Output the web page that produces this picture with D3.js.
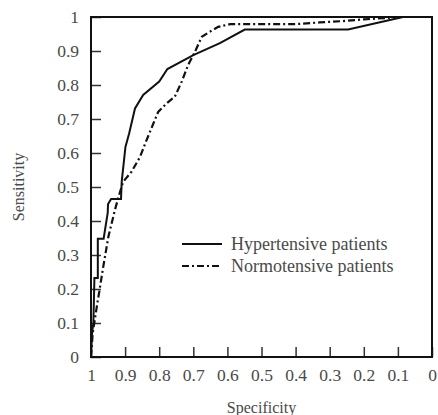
<!DOCTYPE html>
<html>
<head>
<meta charset="utf-8">
<script src="https://cdn.jsdelivr.net/npm/d3@7"></script>
<style>
  body { margin: 0; background: #fff; }
  text { font-family: "Liberation Serif", "DejaVu Serif", serif; fill: #444; }
</style>
</head>
<body>
<svg id="chart" width="438" height="415"></svg>
<script>
// Data: [specificity, sensitivity]
const hypertensive = [
  [1, 0], [0.997, 0.07], [0.993, 0.1], [0.99, 0.232], [0.98, 0.232],
  [0.98, 0.348], [0.963, 0.348], [0.951, 0.424], [0.95, 0.45], [0.941, 0.465],
  [0.912, 0.465], [0.91, 0.515], [0.899, 0.618], [0.888, 0.658], [0.871, 0.731],
  [0.847, 0.771], [0.8, 0.81], [0.776, 0.847], [0.7, 0.888], [0.622, 0.923],
  [0.549, 0.963], [0.246, 0.963], [0.085, 1], [0, 1]
];
const normotensive = [
  [1, 0], [0.995, 0.07], [0.983, 0.148], [0.974, 0.203], [0.964, 0.266],
  [0.949, 0.354], [0.93, 0.432], [0.918, 0.475], [0.906, 0.515], [0.881, 0.545],
  [0.856, 0.589], [0.837, 0.638], [0.815, 0.692], [0.803, 0.721], [0.778, 0.746],
  [0.754, 0.766], [0.734, 0.81], [0.715, 0.859], [0.695, 0.898], [0.675, 0.942],
  [0.651, 0.957], [0.627, 0.971], [0.592, 0.979], [0.402, 0.979], [0.33, 0.984],
  [0.26, 0.988], [0.2, 0.993], [0.09, 1], [0, 1]
];
const xTicks = [1, 0.9, 0.8, 0.7, 0.6, 0.5, 0.4, 0.3, 0.2, 0.1, 0];
const yTicks = [0, 0.1, 0.2, 0.3, 0.4, 0.5, 0.6, 0.7, 0.8, 0.9, 1];
const seriesNames = ['Hypertensive patients', 'Normotensive patients'];

const svg = d3.select('#chart');
const margin = {left: 91, top: 17, right: 6, bottom: 58};
const width = 438 - margin.left - margin.right;
const height = 415 - margin.top - margin.bottom;

const x = d3.scaleLinear().domain([1, 0]).range([0, width]);
const y = d3.scaleLinear().domain([0, 1]).range([height, 0]);

const g = svg.append('g')
  .attr('transform', `translate(${margin.left},${margin.top})`);

// Axes with inward ticks
const fmt = d => d === 0 || d === 1 ? String(d) : d3.format('.1f')(d);

const xAxis = g.append('g')
  .attr('transform', `translate(0,${height})`)
  .call(d3.axisBottom(x).tickValues(xTicks).tickFormat(fmt)
    .tickSizeInner(-10).tickSizeOuter(0).tickPadding(12));

const yAxis = g.append('g')
  .call(d3.axisLeft(y).tickValues(yTicks).tickFormat(fmt)
    .tickSizeInner(-10).tickSizeOuter(0).tickPadding(12));

[xAxis, yAxis].forEach(ax => {
  ax.select('.domain').remove();
  ax.selectAll('line').style('stroke', '#333').style('stroke-width', 1.5);
  ax.selectAll('text')
    .style('font-family', '"Liberation Serif", serif')
    .style('font-size', '17.5px')
    .style('fill', '#4a4a4a');
});

// Frame
g.append('rect')
  .attr('width', width)
  .attr('height', height)
  .style('fill', 'none')
  .style('stroke', '#111')
  .style('stroke-width', 2);

// Curves
const line = d3.line()
  .x(d => x(d[0]))
  .y(d => y(d[1]));

g.append('path')
  .datum(hypertensive)
  .attr('d', line)
  .style('fill', 'none')
  .style('stroke', '#111')
  .style('stroke-width', 2);

g.append('path')
  .datum(normotensive)
  .attr('d', line)
  .style('fill', 'none')
  .style('stroke', '#111')
  .style('stroke-width', 2.2)
  .style('stroke-dasharray', '7,3,2,3');

// Legend
const legend = g.append('g').attr('transform', `translate(${182 - margin.left},${244 - margin.top})`);
seriesNames.forEach((name, i) => {
  legend.append('line')
    .attr('x1', 0).attr('x2', 40)
    .attr('y1', i * 22).attr('y2', i * 22)
    .style('stroke', '#111')
    .style('stroke-width', 2)
    .style('stroke-dasharray', i === 0 ? null : '7,3,2,3');
  legend.append('text')
    .attr('x', 49)
    .attr('y', i * 22)
    .attr('dy', '0.35em')
    .style('font-size', '18px')
    .style('fill', '#4a4a4a')
    .text(name);
});

// Axis titles
svg.append('text')
  .attr('x', margin.left + width / 2)
  .attr('y', 413)
  .attr('text-anchor', 'middle')
  .style('font-size', '16px')
  .style('fill', '#4a4a4a')
  .text('Specificity');

svg.append('text')
  .attr('transform', `translate(24,${margin.top + height / 2}) rotate(-90)`)
  .attr('text-anchor', 'middle')
  .style('font-size', '16px')
  .style('fill', '#4a4a4a')
  .text('Sensitivity');
</script>
</body>
</html>
